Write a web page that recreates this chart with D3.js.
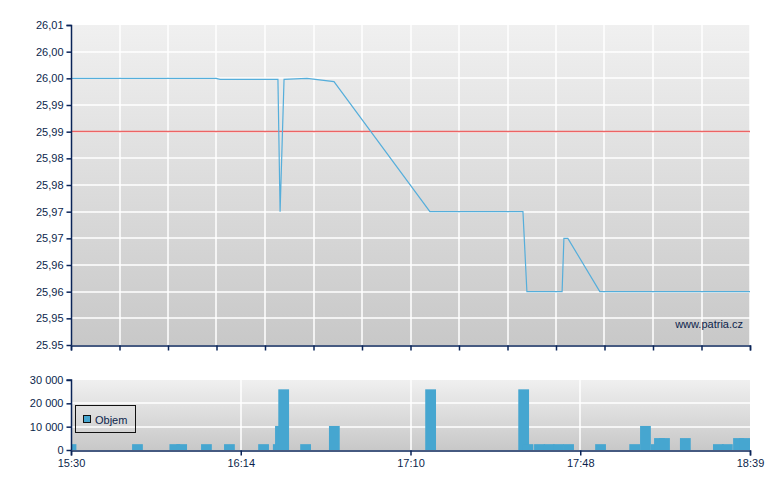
<!DOCTYPE html>
<html>
<head>
<meta charset="utf-8">
<script src="https://cdn.jsdelivr.net/npm/d3@7"></script>
<style>
  body { margin: 0; background: #fff; }
  svg { display: block; }
  text { font-family: "Liberation Sans", Arial, sans-serif; font-size: 11px; fill: #0c1f4c; }
</style>
</head>
<body>
<svg id="chart" width="780" height="490"></svg>
<script>
// minutes after 15:30
var priceTimes  = [0, 40.4, 41.5, 57.6, 58.2, 59.3, 65.7, 73.2, 99.9, 125.8, 126.9, 136.7, 137.2, 138.3, 147.2, 189];
var priceValues = [26.000, 26.000, 25.9998, 25.9998, 25.975, 25.9998, 26.000, 25.9994, 25.975, 25.975, 25.960, 25.960, 25.970, 25.970, 25.960, 25.960];
var prevClose = 25.99;

var volTimes  = [0, 18.5, 28.9, 30.8, 37.7, 44.1, 53.6, 57.7, 58.3, 59.2, 65.3, 73.3, 100.1, 126.0, 127.2, 130.4, 133.1, 135.7, 138.5, 147.4, 156.9, 159.9, 162.9, 163.8, 165.2, 171.0, 180.2, 182.7, 185.8, 187.5];
var volValues = [2500, 2500, 2500, 2500, 2500, 2500, 2500, 2500, 10300, 26000, 2500, 10300, 26000, 26000, 2500, 2500, 2500, 2500, 2500, 2500, 2500, 10300, 2500, 5100, 5100, 5100, 2500, 2500, 5100, 5100];

var priceTicks = [26.01, 26.005, 26.00, 25.995, 25.99, 25.985, 25.98, 25.975, 25.97, 25.965, 25.96, 25.955, 25.95];
var priceTickLabels = ["26,01", "26,00", "26,00", "25,99", "25,99", "25,98", "25,98", "25,97", "25,97", "25,96", "25,96", "25,95", "25.95"];
var volTicks = [0, 10000, 20000, 30000];
var volTickLabels = ["0", "10 000", "20 000", "30 000"];
var timeTicks = [0, 47.25, 94.5, 141.75, 189];
var timeTickLabels = ["15:30", "16:14", "17:10", "17:48", "18:39"];

var svg = d3.select("#chart");
var left = 71, right = 750;
var axisColor = "#0a2458";

var x = d3.scaleLinear().domain([0, 189]).range([left, right]);
var yP = d3.scaleLinear().domain([25.95, 26.01]).range([345, 25]);
var yV = d3.scaleLinear().domain([0, 30000]).range([450, 380]);

var defs = svg.append("defs");
var g1 = defs.append("linearGradient").attr("id", "bgTop").attr("x1", 0).attr("y1", 0).attr("x2", 0).attr("y2", 1);
g1.append("stop").attr("offset", 0).attr("stop-color", "#f0f0f0");
g1.append("stop").attr("offset", 1).attr("stop-color", "#c8c8c8");
var g2 = defs.append("linearGradient").attr("id", "bgBot").attr("x1", 0).attr("y1", 0).attr("x2", 0).attr("y2", 1);
g2.append("stop").attr("offset", 0).attr("stop-color", "#f0f0f0");
g2.append("stop").attr("offset", 1).attr("stop-color", "#c8c8c8");
defs.append("clipPath").attr("id", "clipBot").append("rect")
    .attr("x", left).attr("y", 370).attr("width", right - left).attr("height", 80);

// ---- price panel ----
svg.append("rect").attr("x", left).attr("y", 25).attr("width", right - left).attr("height", 320)
    .attr("fill", "url(#bgTop)");

var gridTop = svg.append("g").attr("stroke", "#fff").attr("stroke-width", 1.5);
gridTop.selectAll(".h").data(priceTicks.slice(1, -1)).enter().append("line")
    .attr("x1", left).attr("x2", right)
    .attr("y1", function (d) { return Math.round(yP(d)); })
    .attr("y2", function (d) { return Math.round(yP(d)); });
var vgrid = d3.range(1, 15).map(function (i) { return i * 189 / 14; });
gridTop.selectAll(".v").data(vgrid).enter().append("line")
    .attr("y1", 25).attr("y2", 345)
    .attr("x1", function (d) { return Math.round(x(d)); })
    .attr("x2", function (d) { return Math.round(x(d)); });

svg.append("line").attr("x1", left).attr("x2", right)
    .attr("y1", Math.round(yP(prevClose)) - 0.5).attr("y2", Math.round(yP(prevClose)) - 0.5)
    .attr("stroke", "#ec6464").attr("stroke-width", 1.6);

var pts = priceTimes.map(function (t, i) { return [t, priceValues[i]]; });
svg.append("path").datum(pts)
    .attr("fill", "none").attr("stroke", "#55aedb").attr("stroke-width", 1.2)
    .attr("d", d3.line().x(function (d) { return x(d[0]); }).y(function (d) { return yP(d[1]); }));

var yAxisP = d3.axisLeft(yP).tickValues(priceTicks).tickSize(5).tickPadding(3)
    .tickFormat(function (d, i) { return priceTickLabels[i]; });
var gyP = svg.append("g").attr("transform", "translate(" + (left + 0.5) + ",0)").call(yAxisP);
var xAxisTop = d3.axisBottom(x).tickValues([0].concat(vgrid)).tickSize(5).tickFormat("");
var gxT = svg.append("g").attr("transform", "translate(0," + 345.5 + ")").call(xAxisTop);

svg.append("text").attr("x", 743).attr("y", 328).attr("text-anchor", "end").text("www.patria.cz");

// ---- volume panel ----
svg.append("rect").attr("x", left).attr("y", 380).attr("width", right - left).attr("height", 70)
    .attr("fill", "url(#bgBot)");
var gridBot = svg.append("g").attr("stroke", "#fff").attr("stroke-width", 1.5);
gridBot.selectAll(".h").data(volTicks.slice(1, -1)).enter().append("line")
    .attr("x1", left).attr("x2", right)
    .attr("y1", function (d) { return Math.round(yV(d)); })
    .attr("y2", function (d) { return Math.round(yV(d)); });
gridBot.selectAll(".v").data(timeTicks.slice(1, -1)).enter().append("line")
    .attr("y1", 380).attr("y2", 450)
    .attr("x1", function (d) { return Math.round(x(d)); })
    .attr("x2", function (d) { return Math.round(x(d)); });

var barW = 3; // minutes
svg.append("g").attr("clip-path", "url(#clipBot)").selectAll("rect")
    .data(volTimes).enter().append("rect")
    .attr("x", function (d) { return x(d - barW / 2); })
    .attr("width", x(barW) - x(0))
    .attr("y", function (d, i) { return yV(volValues[i]); })
    .attr("height", function (d, i) { return yV(0) - yV(volValues[i]); })
    .attr("fill", "#46a6d0");

var yAxisV = d3.axisLeft(yV).tickValues(volTicks).tickSize(5).tickPadding(3)
    .tickFormat(function (d, i) { return volTickLabels[i]; });
var gyV = svg.append("g").attr("transform", "translate(" + (left + 0.5) + ",0)").call(yAxisV);
var xAxisV = d3.axisBottom(x).tickValues(timeTicks).tickSize(5).tickPadding(4)
    .tickFormat(function (d, i) { return timeTickLabels[i]; });
var gxV = svg.append("g").attr("transform", "translate(0," + 450.5 + ")").call(xAxisV);

[gyP, gxT, gyV, gxV].forEach(function (g) {
    g.select(".domain").attr("stroke", axisColor).attr("stroke-width", 1.5);
    g.selectAll(".tick line").attr("stroke", axisColor).attr("stroke-width", 1.5);
    g.selectAll("text").attr("fill", "#0c1f4c").style("font-size", "11px")
        .style("font-family", '"Liberation Sans", Arial, sans-serif');
});
gyP.select(".domain").attr("d", "M-5,25.5H0V345");
gyV.select(".domain").attr("d", "M-5,380H0V450");

// legend
var leg = svg.append("g");
leg.append("rect").attr("x", 75.5).attr("y", 405.5).attr("width", 60).attr("height", 27)
    .attr("fill", "none").attr("stroke", "#111").attr("stroke-width", 1);
leg.append("rect").attr("x", 83.5).attr("y", 415.5).attr("width", 7).attr("height", 7)
    .attr("fill", "#46a6d0").attr("stroke", "#111");
leg.append("text").attr("x", 95).attr("y", 424).text("Objem");
</script>
</body>
</html>
